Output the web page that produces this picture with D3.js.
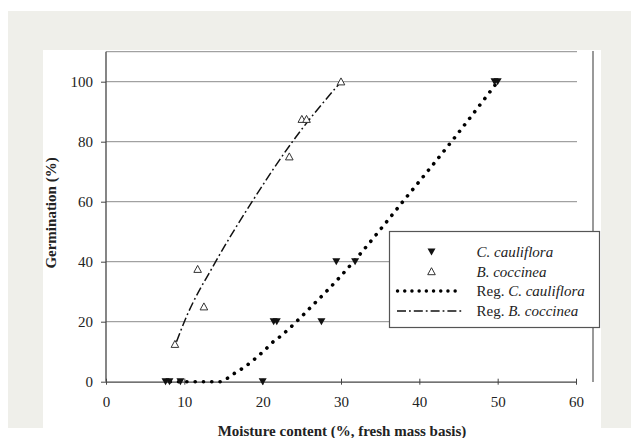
<!DOCTYPE html>
<html><head><meta charset="utf-8">
<script src="https://cdn.jsdelivr.net/npm/d3@7"></script>
<style>body{margin:0;background:#fff;} svg{display:block;}</style>
</head><body>
<svg id="chart" width="631" height="438"></svg>
<script>
// Data
const xTicks = [0, 10, 20, 30, 40, 50, 60];
const yTicks = [0, 20, 40, 60, 80, 100];
const cauliX = [7.6, 8.1, 9.5, 20.0, 21.4, 21.8, 27.5, 29.4, 31.8, 49.6, 50.0];
const cauliY = [0, 0, 0, 0, 20, 20, 20, 40, 40, 100, 100];
const coccX = [8.8, 11.7, 12.5, 23.4, 25.0, 25.6, 30.0];
const coccY = [12.5, 37.5, 25, 75, 87.5, 87.5, 100];
const regCauliX = [8.2, 14.6, 15.4, 16.4, 17.4, 18.4, 19.3, 20.3, 21.2, 22.2, 23.3, 24.3, 26.2, 28.1, 29.9, 31.6, 38.2, 44.4, 50];
const regCauliY = [0, 0, 1.0, 2.8, 4.4, 6.3, 8.3, 10.6, 13.0, 15.0, 17.5, 20, 25, 30, 35, 40, 61, 81, 100];
const regCoccX = [9.0, 10.0, 14.0, 18.65, 23.8, 30.0];
const regCoccY = [13.3, 20, 40, 60, 80, 100];
const legendLabels = [
  ["", "C. cauliflora"],
  ["", "B. coccinea"],
  ["Reg. ", "C. cauliflora"],
  ["Reg. ", "B. coccinea"]
];
const xTitle = "Moisture content (%, fresh mass basis)";
const yTitle = "Germination (%)";

const svg = d3.select("#chart");
const serif = "'Liberation Serif','Times New Roman',serif";
const ink = "#222";

// background frame
svg.append("rect").attr("x", 8).attr("y", 11).attr("width", 623).attr("height", 417).attr("fill", "#efefea");
svg.append("rect").attr("x", 43).attr("y", 50).attr("width", 558).attr("height", 388).attr("fill", "#fff");

const x = d3.scaleLinear().domain([0, 60]).range([106, 576]);
const y = d3.scaleLinear().domain([0, 110]).range([381.7, 51.7]);

// gridlines (incl. top at 110)
svg.append("g").selectAll("line").data(yTicks.filter(d => d > 0).concat([110])).join("line")
  .attr("x1", x(0)).attr("x2", x(60) + 1)
  .attr("y1", d => y(d)).attr("y2", d => y(d))
  .attr("stroke", "#8c8c8c").attr("stroke-width", 1);

// right border line
svg.append("line").attr("x1", 593).attr("x2", 593).attr("y1", 51).attr("y2", 382)
  .attr("stroke", "#555").attr("stroke-width", 1.2);

// x axis
const xAxis = svg.append("g").attr("transform", `translate(0,${y(0)})`)
  .call(d3.axisBottom(x).tickValues(xTicks).tickSize(0).tickPadding(15));
xAxis.select(".domain").attr("stroke", "#444").attr("stroke-width", 1.3);
xAxis.selectAll(".tick line").remove();
xAxis.selectAll(".tick").append("line").attr("y1", -3).attr("y2", 3).attr("stroke", "#444");
xAxis.selectAll("text").attr("font-family", serif).attr("font-size", 15).attr("fill", ink);

// y axis
const yAxis = svg.append("g").attr("transform", `translate(${x(0)},0)`)
  .call(d3.axisLeft(y).tickValues(yTicks).tickSize(5).tickPadding(8));
yAxis.select(".domain").attr("d", `M0,${y(110)}V${y(0)}`).attr("stroke", "#444").attr("stroke-width", 1.3);
yAxis.selectAll(".tick line").attr("stroke", "#444");
yAxis.selectAll("text").attr("font-family", serif).attr("font-size", 15).attr("fill", ink);

// regression lines
const line = d3.line().x(d => x(d[0])).y(d => y(d[1])).curve(d3.curveMonotoneX);
svg.append("path").datum(regCauliX.map((v, i) => [v, regCauliY[i]]))
  .attr("d", line).attr("fill", "none").attr("stroke", "#000")
  .attr("stroke-width", 3.6).attr("stroke-linecap", "round").attr("stroke-dasharray", "0.1 8.2");
svg.append("path").datum(regCoccX.map((v, i) => [v, regCoccY[i]]))
  .attr("d", line).attr("fill", "none").attr("stroke", "#111")
  .attr("stroke-width", 1.5).attr("stroke-dasharray", "9 3 1.8 3");

// markers
const triDown = "M-4,-3.5L4,-3.5L0,3.5Z";
const triUp = "M-3.8,3.2L3.8,3.2L0,-3.8Z";
svg.append("g").selectAll("path").data(cauliX.map((v, i) => [v, cauliY[i]])).join("path")
  .attr("transform", d => `translate(${x(d[0])},${y(d[1])})`)
  .attr("d", triDown).attr("fill", "#111");
svg.append("g").selectAll("path").data(coccX.map((v, i) => [v, coccY[i]])).join("path")
  .attr("transform", d => `translate(${x(d[0])},${y(d[1])})`)
  .attr("d", triUp).attr("fill", "#fff").attr("stroke", "#333").attr("stroke-width", 1);

// legend
const lg = svg.append("g");
lg.append("rect").attr("x", 389.5).attr("y", 231.5).attr("width", 210).attr("height", 96)
  .attr("fill", "#fff").attr("stroke", "#555").attr("stroke-width", 1.2);
const rowsY = [252, 271.5, 291, 311];
lg.append("path").attr("transform", `translate(431.5,${rowsY[0]})`).attr("d", triDown).attr("fill", "#111");
lg.append("path").attr("transform", `translate(431.5,${rowsY[1]})`).attr("d", triUp)
  .attr("fill", "#fff").attr("stroke", "#333");
lg.append("line").attr("x1", 397.5).attr("x2", 462).attr("y1", rowsY[2]).attr("y2", rowsY[2])
  .attr("stroke", "#000").attr("stroke-width", 3.4).attr("stroke-linecap", "round").attr("stroke-dasharray", "0.1 7.1");
lg.append("line").attr("x1", 397).attr("x2", 462).attr("y1", rowsY[3]).attr("y2", rowsY[3])
  .attr("stroke", "#111").attr("stroke-width", 1.5).attr("stroke-dasharray", "9 3 1.8 3");
legendLabels.forEach((lab, i) => {
  const t = lg.append("text").attr("x", 476.5).attr("y", rowsY[i] + 5)
    .attr("font-family", serif).attr("font-size", 15).attr("fill", ink);
  if (lab[0]) t.append("tspan").text(lab[0]);
  t.append("tspan").attr("font-style", "italic").text(lab[1]);
});

// axis titles
svg.append("text").attr("x", 342).attr("y", 435.5).attr("text-anchor", "middle")
  .attr("font-family", serif).attr("font-size", 15).attr("font-weight", "bold").attr("fill", ink)
  .text(xTitle);
svg.append("text").attr("transform", "translate(56,213) rotate(-90)").attr("text-anchor", "middle")
  .attr("font-family", serif).attr("font-size", 15).attr("font-weight", "bold").attr("fill", ink)
  .text(yTitle);
</script>
</body></html>
